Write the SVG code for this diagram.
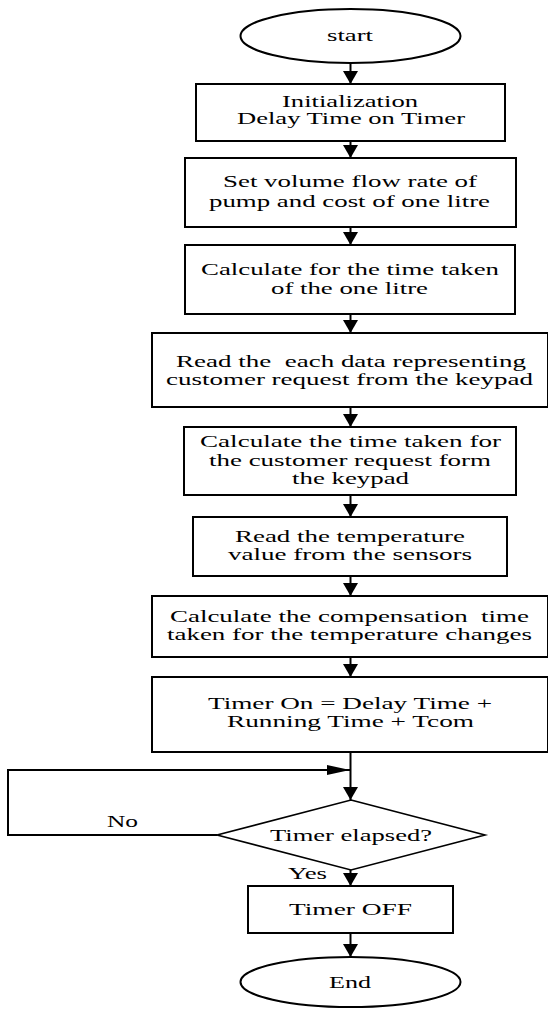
<svg xmlns="http://www.w3.org/2000/svg" width="548" height="1009" viewBox="0 0 548 1009">
<style>
  .box { fill: #fff; stroke: #000; stroke-width: 2; }
  .term { fill: #fff; stroke: #000; stroke-width: 2; }
  .dec { fill: #fff; stroke: #000; stroke-width: 1.6; }
  .t { font-family: "Liberation Serif", "Times New Roman", serif; font-size: 17px; fill: #000; text-anchor: middle; white-space: pre; }
  .conn { fill: none; stroke: #000; stroke-width: 2; }
</style>
<defs>
  <marker id="arrV" viewBox="0 0 13 15" refX="13" refY="7.5" markerWidth="13" markerHeight="15" markerUnits="userSpaceOnUse" orient="auto">
    <path d="M0,0 L13,7.5 L0,15 Z" fill="#000"/>
  </marker>
  <marker id="arrH" viewBox="0 0 23 10" refX="23" refY="5" markerWidth="23" markerHeight="10" markerUnits="userSpaceOnUse" orient="auto">
    <path d="M0,0 L23,5 L0,10 Z" fill="#000"/>
  </marker>
</defs>
<rect width="548" height="1009" fill="#fff"/>

<g id="connectors">
  <path class="conn" d="M350.5,63 V84" marker-end="url(#arrV)"/>
  <path class="conn" d="M350.5,141 V158" marker-end="url(#arrV)"/>
  <path class="conn" d="M350.5,227 V245" marker-end="url(#arrV)"/>
  <path class="conn" d="M350.5,314 V333" marker-end="url(#arrV)"/>
  <path class="conn" d="M350.5,407 V427" marker-end="url(#arrV)"/>
  <path class="conn" d="M350.5,495 V517" marker-end="url(#arrV)"/>
  <path class="conn" d="M350.5,576 V596" marker-end="url(#arrV)"/>
  <path class="conn" d="M350.5,657 V677" marker-end="url(#arrV)"/>
  <path class="conn" d="M350.5,752 V800" marker-end="url(#arrV)"/>
  <path class="conn" d="M217,835 H8 V770 H350" marker-end="url(#arrH)"/>
  <path class="conn" d="M350.5,870 V886" marker-end="url(#arrV)"/>
  <path class="conn" d="M350.5,933 V957" marker-end="url(#arrV)"/>
</g>

<g id="start">
  <ellipse class="term" cx="350.5" cy="36" rx="110" ry="27"/>
  <text class="t" x="350" y="41" textLength="46" lengthAdjust="spacingAndGlyphs">start</text>
</g>

<g id="init">
  <rect class="box" x="196" y="84" width="309" height="57"/>
  <text class="t" x="350" y="107" textLength="136" lengthAdjust="spacingAndGlyphs">Initialization</text>
  <text class="t" x="351" y="124" textLength="228" lengthAdjust="spacingAndGlyphs">Delay Time on Timer</text>
</g>

<g id="setflow">
  <rect class="box" x="185" y="158" width="331" height="69"/>
  <text class="t" x="350" y="187" textLength="254" lengthAdjust="spacingAndGlyphs">Set volume flow rate of</text>
  <text class="t" x="349.5" y="207" textLength="281" lengthAdjust="spacingAndGlyphs">pump and cost of one litre</text>
</g>

<g id="calclitre">
  <rect class="box" x="185" y="245" width="330" height="69"/>
  <text class="t" x="350" y="275" textLength="298" lengthAdjust="spacingAndGlyphs">Calculate for the time taken</text>
  <text class="t" x="349.5" y="294" textLength="157" lengthAdjust="spacingAndGlyphs">of the one litre</text>
</g>

<g id="readkeypad">
  <rect class="box" x="152" y="333" width="396" height="74"/>
  <text class="t" x="351" y="367" textLength="350" lengthAdjust="spacingAndGlyphs">Read the  each data representing</text>
  <text class="t" x="349.5" y="385" textLength="367" lengthAdjust="spacingAndGlyphs">customer request from the keypad</text>
</g>

<g id="calcrequest">
  <rect class="box" x="184" y="427" width="332" height="68"/>
  <text class="t" x="350.5" y="447" textLength="301" lengthAdjust="spacingAndGlyphs">Calculate the time taken for</text>
  <text class="t" x="350" y="466" textLength="282" lengthAdjust="spacingAndGlyphs">the customer request form</text>
  <text class="t" x="350.5" y="484" textLength="117" lengthAdjust="spacingAndGlyphs">the keypad</text>
</g>

<g id="readtemp">
  <rect class="box" x="193" y="517" width="314" height="59"/>
  <text class="t" x="350" y="542" textLength="230" lengthAdjust="spacingAndGlyphs">Read the temperature</text>
  <text class="t" x="350" y="560" textLength="244" lengthAdjust="spacingAndGlyphs">value from the sensors</text>
</g>

<g id="compensation">
  <rect class="box" x="152" y="596" width="396" height="61"/>
  <text class="t" x="349.5" y="622" textLength="359" lengthAdjust="spacingAndGlyphs">Calculate the compensation  time</text>
  <text class="t" x="349.5" y="640" textLength="365" lengthAdjust="spacingAndGlyphs">taken for the temperature changes</text>
</g>

<g id="timeron">
  <rect class="box" x="152" y="677" width="396" height="75"/>
  <text class="t" x="350" y="709" textLength="284" lengthAdjust="spacingAndGlyphs">Timer On = Delay Time +</text>
  <text class="t" x="350.5" y="727" textLength="247" lengthAdjust="spacingAndGlyphs">Running Time + Tcom</text>
</g>

<g id="elapsed">
  <polygon class="dec" points="351,800 485,835 351,870 217,835"/>
  <text class="t" x="351" y="841" textLength="162" lengthAdjust="spacingAndGlyphs">Timer elapsed?</text>
</g>

<g id="labels">
  <text class="t" x="122.5" y="827" textLength="31" lengthAdjust="spacingAndGlyphs">No</text>
  <text class="t" x="307.5" y="879" textLength="39" lengthAdjust="spacingAndGlyphs">Yes</text>
</g>

<g id="timeroff">
  <rect class="box" x="248" y="886" width="205" height="47"/>
  <text class="t" x="350.5" y="915" textLength="123" lengthAdjust="spacingAndGlyphs">Timer OFF</text>
</g>

<g id="end">
  <ellipse class="term" cx="350.5" cy="982" rx="110" ry="25"/>
  <text class="t" x="350" y="988" textLength="42" lengthAdjust="spacingAndGlyphs">End</text>
</g>
</svg>
